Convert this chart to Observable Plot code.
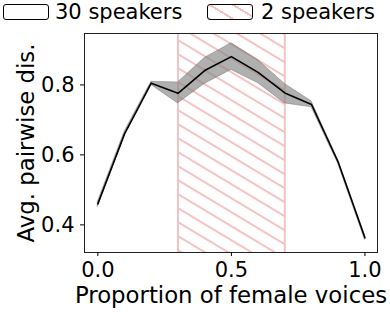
<!DOCTYPE html>
<html>
<head>
<meta charset="utf-8">
<script src="https://cdn.jsdelivr.net/npm/d3@7"></script>
<script src="https://cdn.jsdelivr.net/npm/@observablehq/plot@0.6"></script>
<style>
  html, body { margin: 0; padding: 0; background: #fff; }
  body { width: 390px; height: 315px; overflow: hidden; font-family: "DejaVu Sans", sans-serif; }
  #legend { height: 30px; position: relative; font-size: 21px; color: #000; }
  .item { position: absolute; top: 0; display: flex; align-items: center; height: 23px; }
  .sw { width: 44px; height: 14px; border: 1.2px solid #000; border-radius: 3px; margin-right: 6px; box-sizing: content-box; }
  .hatch { background: repeating-linear-gradient(31deg, #f4c4c4 0 2px, #fff 2px 12px); }
</style>
</head>
<body>
<div id="legend">
  <div class="item" style="left:3px"><div class="sw"></div><span>30 speakers</span></div>
  <div class="item" style="left:207px"><div class="sw hatch" style="margin-right:8px"></div><span>2 speakers</span></div>
</div>
<div id="chart"></div>
<script>
const proportion = [0.0, 0.1, 0.2, 0.3, 0.4, 0.5, 0.6, 0.7, 0.8, 0.9, 1.0];
const meanDis    = [0.460, 0.660, 0.805, 0.776, 0.841, 0.881, 0.836, 0.777, 0.744, 0.579, 0.363];
const lowerDis   = [0.452, 0.655, 0.800, 0.747, 0.803, 0.843, 0.805, 0.747, 0.736, 0.574, 0.357];
const upperDis   = [0.466, 0.666, 0.809, 0.807, 0.877, 0.919, 0.871, 0.803, 0.753, 0.585, 0.369];
const twoSpeakerRange = [0.3, 0.7];
const xTicks = [0.0, 0.5, 1.0];
const yTicks = [0.4, 0.6, 0.8];

const data = proportion.map((p, i) => ({p, mean: meanDis[i], lo: lowerDis[i], hi: upperDis[i]}));
const hatchPink = "#f4c4c4";

const chart = Plot.plot({
  width: 390,
  height: 285,
  marginTop: 3,
  marginBottom: 63,
  marginLeft: 84,
  marginRight: 13,
  style: {fontFamily: "DejaVu Sans, sans-serif", fontSize: "21px", color: "#000", background: "#fff", overflow: "visible"},
  x: {domain: [-0.05, 1.047]},
  y: {domain: [0.321, 0.947]},
  marks: [
    Plot.rect([{x1: twoSpeakerRange[0], x2: twoSpeakerRange[1]}], {x1: "x1", x2: "x2", fill: "url(#hatch2)"}),
    Plot.ruleX(twoSpeakerRange, {stroke: hatchPink, strokeWidth: 2}),
    Plot.areaY(data, {x: "p", y1: "lo", y2: "hi", fill: "#808080", fillOpacity: 0.62, stroke: "#666", strokeOpacity: 0.5, strokeWidth: 0.8}),
    Plot.line(data, {x: "p", y: "mean", stroke: "#000", strokeWidth: 1.6}),
    Plot.frame({stroke: "#222", strokeWidth: 1}),
    Plot.axisX(xTicks, {tickFormat: d3.format(".1f"), tickSize: 4, tickPadding: 6, label: "Proportion of female voices", labelAnchor: "center", labelOffset: 50, labelArrow: "none"}),
    Plot.axisY(yTicks, {tickFormat: d3.format(".1f"), tickSize: 4, tickPadding: 6, label: "Avg. pairwise dis.", labelAnchor: "center", labelOffset: 67, labelArrow: "none"})
  ]
});

const svg = d3.select(chart);
svg.selectAll('g[aria-label="x-axis label"], g[aria-label="y-axis label"]').attr("font-size", "22.8px");
const defs = svg.insert("defs", ":first-child");
const pat = defs.append("pattern")
  .attr("id", "hatch2")
  .attr("patternUnits", "userSpaceOnUse")
  .attr("width", 12).attr("height", 12)
  .attr("patternTransform", "rotate(31)");
pat.append("rect").attr("width", 12).attr("height", 12).attr("fill", "#fff");
pat.append("rect").attr("x", 0).attr("y", 0).attr("width", 12).attr("height", 2).attr("fill", hatchPink);

document.getElementById("chart").appendChild(chart);
</script>
</body>
</html>
